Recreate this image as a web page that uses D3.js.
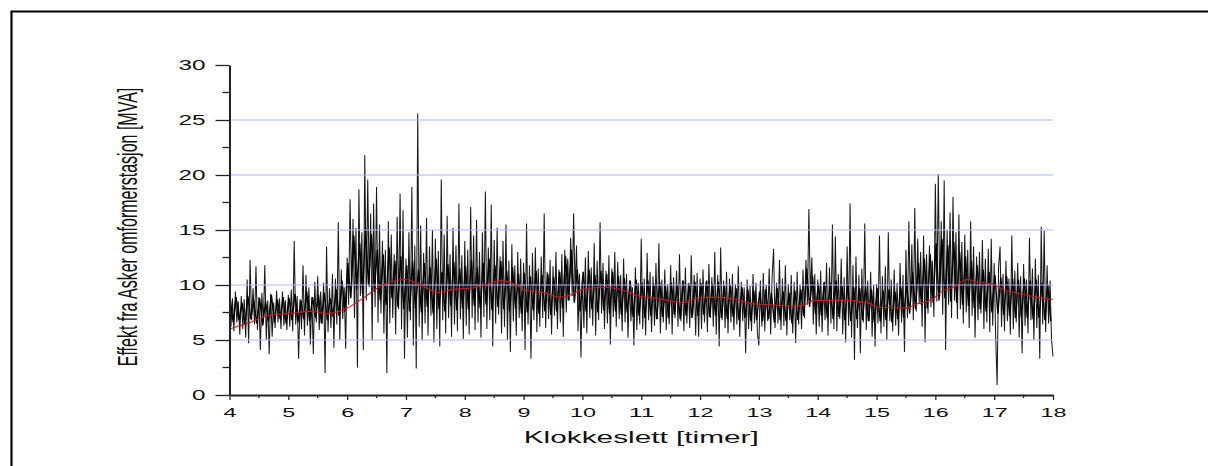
<!DOCTYPE html>
<html><head><meta charset="utf-8">
<script src="https://cdn.jsdelivr.net/npm/d3@7"></script>
<style>
html,body{margin:0;padding:0;background:#fff;}
svg{display:block;}
</style></head>
<body>
<svg id="chart" width="1208" height="466"></svg>
<script>
// ---- data ----
const startHour = 4, stepHour = 0.025;
// MVA samples (whole trace incl. spikes), 40 per hour
const mva04 = [9.6,6.2,8.8,5.8,9.4,6.6,8.5,5.5,9.0,6.0,8.7,5.2,10.5,4.7,12.3,6.8,9.7,6.4,11.7,5.9,8.9,4.1,9.3,6.5,11.8,5.0,8.6,3.7,9.2,5.3,8.4,6.1,9.5,6.6,8.8,6.0,9.4,6.3,8.6,5.9];
const mva05 = [9.1,6.2,9.6,5.8,14.0,6.4,9.0,3.3,8.7,6.0,11.8,5.4,10.9,6.3,9.8,4.6,8.9,3.7,10.3,6.6,10.8,5.9,9.4,6.5,10.2,2.0,13.5,5.7,9.7,6.1,11.0,4.3,10.6,6.4,15.7,5.0,11.4,6.9,9.8,4.2];
const mva06 = [12.5,8.2,17.8,9.5,16.0,7.0,15.2,2.5,18.7,9.0,14.8,4.1,21.8,8.6,19.6,9.8,16.5,5.0,17.4,8.0,18.9,6.6,15.5,7.4,14.0,5.6,13.2,2.0,15.8,6.5,14.6,7.0,12.8,5.5,16.2,7.8,18.3,6.0,16.8,3.3];
const mva07 = [12.4,5.2,14.8,6.8,18.9,4.5,13.6,2.4,25.6,6.2,15.4,5.0,12.9,6.5,16.1,5.4,13.5,7.2,15.0,4.8,14.2,6.0,13.1,4.4,19.6,6.8,14.6,5.6,16.3,7.0,12.8,5.3,15.2,6.4,13.6,5.8,17.4,6.9,12.7,5.1];
const mva08 = [14.0,6.3,13.2,5.5,17.1,7.0,14.5,5.9,15.9,6.6,13.0,5.2,14.8,7.1,18.5,6.0,13.4,6.8,17.3,4.4,14.1,6.5,15.2,7.3,12.6,5.6,14.0,6.2,15.5,5.0,12.2,3.9,13.7,6.7,11.8,5.4,13.0,7.0,12.4,5.8];
const mva09 = [12.0,4.1,15.6,6.4,11.8,3.3,12.9,6.8,13.4,5.7,11.5,6.2,12.6,7.0,16.5,6.1,11.2,6.9,12.3,5.5,11.7,7.2,13.0,6.0,11.4,6.6,12.8,5.3,13.2,7.5,12.4,8.6,14.3,9.0,16.5,9.6,13.6,5.8,11.0,3.4];
const mva10 = [10.8,6.1,12.5,5.6,13.1,7.0,11.6,6.3,13.8,5.4,12.2,6.8,15.7,7.4,12.0,6.0,11.3,6.5,12.7,4.6,11.5,7.1,13.0,6.2,12.1,6.9,10.9,5.8,12.4,6.6,11.0,5.2,10.4,6.7,9.8,4.5,11.6,5.9,10.2,6.4];
const mva11 = [14.2,6.0,10.6,5.4,12.9,6.8,11.2,5.7,10.8,6.3,12.0,6.9,13.8,5.6,10.5,6.6,11.4,5.9,10.1,6.4,11.8,5.5,10.7,7.0,11.3,6.2,12.8,6.7,10.4,5.8,11.6,6.5,10.2,6.1,12.7,7.2,10.9,5.4,11.1,5.3];
const mva12 = [10.6,6.0,11.4,6.6,10.3,5.7,11.9,7.0,10.7,6.2,13.0,5.5,10.9,4.4,13.4,6.8,10.4,6.1,11.2,5.6,10.6,6.6,11.0,5.9,10.1,6.4,11.7,5.3,10.3,6.7,9.8,3.8,10.5,6.0,9.9,5.8,11.0,6.5,10.2,5.6];
const mva13 = [4.5,10.4,6.2,11.1,5.8,10.0,6.7,11.5,5.5,10.8,13.3,6.1,10.2,6.5,12.3,5.9,10.6,6.3,11.8,5.4,10.1,6.8,10.9,5.6,10.3,4.7,11.2,6.4,10.0,6.0,11.4,7.0,12.3,8.2,16.9,9.0,12.5,6.4,11.0,5.5];
const mva14 = [10.5,6.2,11.3,5.7,10.2,6.8,12.0,5.4,11.6,6.5,15.5,6.0,14.4,5.8,11.0,6.9,12.4,5.5,10.7,4.8,13.5,6.3,17.4,5.2,11.8,3.2,12.6,6.1,10.9,3.8,11.5,6.6,15.6,5.9,10.4,6.7,11.2,5.3,10.0,4.4];
const mva15 = [10.1,6.5,14.5,5.6,10.8,6.2,11.7,5.0,14.8,6.7,10.5,5.8,11.4,6.3,10.2,5.4,12.0,6.6,10.9,3.9,13.2,7.0,15.8,8.1,13.7,6.8,17.0,7.6,14.2,8.3,13.0,6.2,14.5,4.8,12.8,7.4,13.6,8.0,12.2,7.1];
const mva16 = [19.2,8.5,20.1,9.0,15.8,7.3,19.5,4.1,15.0,8.2,16.6,7.0,18.0,8.6,14.8,6.9,16.4,7.8,13.9,6.5,14.6,7.5,13.2,6.1,15.8,7.2,13.5,5.2,12.6,6.8,13.0,7.4,14.1,6.0,12.4,6.6,13.3,5.7,14.2,6.3];
const mva17 = [12.0,5.4,0.9,11.6,13.5,6.2,11.0,5.8,12.2,6.7,10.6,5.5,14.5,6.0,11.3,6.6,12.0,5.2,10.8,3.8,11.9,6.3,10.5,5.6,14.3,6.8,11.5,5.0,12.4,6.1,10.9,3.3,15.3,6.4,14.9,5.7,11.8,6.5,10.4,5.0];
const mva18 = [3.5];

// in-between samples of the dense core, 20 per hour (offset by half a step)
const denseStart = 4.0125, denseStep = 0.05;
const core04 = [8.7,6.6,8.9,6.8,8.4,6.4,9.0,6.9,8.6,6.5,8.8,6.3,8.5,6.7,9.1,6.6,8.7,6.9,8.9,6.5];
const core05 = [8.8,6.8,9.2,6.6,8.6,6.9,9.4,6.7,8.9,7.0,9.1,6.5,9.3,6.8,8.8,7.1,9.6,7.2,10.4,7.6];
const core06 = [12.0,8.8,14.5,9.6,13.8,9.2,15.2,10.0,14.6,9.4,13.2,8.6,12.8,8.2,13.4,8.8,12.2,8.0,12.6,7.8];
const core07 = [11.8,7.6,12.2,7.9,11.4,7.5,12.0,8.0,11.6,7.4,12.4,7.8,11.2,7.6,11.9,8.1,12.1,7.7,11.5,7.9];
const core08 = [11.7,7.8,12.3,8.1,11.6,7.9,12.0,8.2,12.4,7.7,11.8,8.0,12.2,7.8,11.3,7.6,11.6,7.9,11.0,7.4];
const core09 = [11.1,7.5,10.8,7.7,11.3,7.4,10.9,7.6,11.0,7.3,10.7,7.6,11.2,7.9,12.6,8.6,13.2,8.4,11.4,7.6];
const core10 = [11.2,7.6,11.4,7.8,10.9,7.5,11.3,7.7,11.0,7.4,11.2,7.6,10.8,7.3,10.6,7.5,10.4,7.1,10.5,7.2];
const core11 = [10.2,7.0,10.4,7.2,10.1,6.9,10.3,7.1,9.9,7.0,10.2,7.3,10.0,6.9,10.4,7.2,10.1,7.0,10.3,7.2];
const core12 = [10.2,7.3,10.4,7.1,10.1,7.2,10.3,7.0,9.9,6.9,10.0,7.1,9.7,6.8,9.8,7.0,9.6,6.7,9.5,6.8];
const core13 = [9.4,6.7,9.6,6.9,9.3,6.6,9.7,6.8,9.4,6.7,9.3,6.5,9.5,6.8,9.6,7.2,11.5,8.0,10.8,7.4];
const core14 = [10.1,7.2,10.3,7.0,10.2,6.9,10.4,7.1,9.9,6.8,10.1,6.7,9.8,6.9,9.7,6.8,9.9,6.7,9.6,6.6];
const core15 = [9.7,6.7,9.5,6.8,9.6,6.6,9.4,6.9,9.8,7.0,10.2,7.4,11.2,7.8,12.0,8.2,12.4,7.9,12.8,8.4];
const core16 = [13.8,8.6,14.2,8.8,13.6,8.5,13.9,8.4,13.0,8.2,12.6,8.1,12.2,7.9,11.8,7.8,11.4,7.6,11.2,7.5];
const core17 = [10.9,7.4,10.7,7.3,10.8,7.2,10.6,7.0,10.5,7.1,10.6,7.0,10.4,6.9,10.5,7.0,10.2,6.8,10.0,6.7];

// smoothed (red) curve
const trendHours = [4.0,4.3,4.65,5.0,5.4,5.65,5.85,6.0,6.3,6.6,7.0,7.25,7.55,7.8,8.1,8.35,8.6,8.75,9.05,9.35,9.6,9.8,10.0,10.4,10.7,10.95,11.25,11.45,11.7,11.95,12.25,12.6,12.9,13.2,13.7,13.95,14.4,14.85,15.0,15.5,15.7,15.95,16.1,16.3,16.55,16.7,17.0,17.15,17.45,17.7,18.0];
const trendMVA   = [6.0,6.5,7.2,7.4,7.6,7.4,7.6,7.9,8.9,10.0,10.5,10.0,9.3,9.6,9.7,10.0,10.4,10.3,9.5,9.3,8.9,9.1,9.6,9.8,9.5,9.0,8.8,8.6,8.4,8.8,8.9,8.7,8.3,8.2,8.1,8.6,8.6,8.4,8.0,7.9,8.3,8.7,9.4,9.8,10.5,10.3,10.0,9.6,9.2,8.9,8.7];

const xTicks = [4,5,6,7,8,9,10,11,12,13,14,15,16,17,18];
const xMinorTicks = [4.5,5.5,6.5,7.5,8.5,9.5,10.5,11.5,12.5,13.5,14.5,15.5,16.5,17.5];
const yTicks = [0,5,10,15,20,25,30];
const yMinorTicks = [2.5,7.5,12.5,17.5,22.5,27.5];
const gridValues = [5,10,15,20,25];
const xTitle = "Klokkeslett [timer]";
const yTitle = "Effekt fra Asker omformerstasjon [MVA]";

// ---- drawing ----
const svg = d3.select("#chart");
const series = [].concat(mva04,mva05,mva06,mva07,mva08,mva09,mva10,mva11,mva12,mva13,mva14,mva15,mva16,mva17,mva18)
  .map((v,i)=>({t:startHour + i*stepHour, v}));
const dense = [].concat(core04,core05,core06,core07,core08,core09,core10,core11,core12,core13,core14,core15,core16,core17)
  .map((v,i)=>({t:denseStart + i*denseStep, v}));
const trend = trendHours.map((t,i)=>({t, v:trendMVA[i]}));

const x = d3.scaleLinear().domain([4,18]).range([229.5,1053]);
const y = d3.scaleLinear().domain([0,30]).range([395,65]);

// outer frame
svg.append("path").attr("d","M11.5,466V11.5H1208").attr("fill","none").attr("stroke","#000").attr("stroke-width",2.2);

const font = "'Liberation Sans', Arial, sans-serif";
const line = d3.line().x(d=>x(d.t)).y(d=>y(d.v));

// trace: dense core + full samples
svg.append("path").datum(dense).attr("d",line).attr("fill","none")
  .attr("stroke","#000").attr("stroke-width",1.4);
svg.append("path").datum(series).attr("d",line).attr("fill","none")
  .attr("stroke","#000").attr("stroke-width",1.05).attr("stroke-opacity",0.9);

// grid lines (drawn over the data, light blue)
svg.append("g").selectAll("line").data(gridValues).join("line")
  .attr("x1",x(4)).attr("x2",x(18)).attr("y1",d=>y(d)).attr("y2",d=>y(d))
  .attr("stroke","#b4b4ff").attr("stroke-width",1.2);

// trend
svg.append("path").datum(trend).attr("d",d3.line().x(d=>x(d.t)).y(d=>y(d.v)).curve(d3.curveMonotoneX)).attr("fill","none")
  .attr("stroke","#cc1a1a").attr("stroke-width",1.1);

// y axis
const gy = svg.append("g").attr("transform",`translate(${x(4)},0)`)
  .call(d3.axisLeft(y).tickValues(yTicks).tickSize(14).tickPadding(10).tickSizeOuter(0).tickFormat(d3.format("d")));
gy.append("g").selectAll("line").data(yMinorTicks).join("line")
  .attr("x1",0).attr("x2",-7).attr("y1",d=>y(d)).attr("y2",d=>y(d)).attr("stroke","#222").attr("stroke-width",1.3);
gy.select(".domain").attr("stroke","#222").attr("stroke-width",2);
gy.selectAll(".tick line").attr("stroke","#222").attr("stroke-width",1.3);
gy.selectAll(".tick text").attr("font-family",font).attr("font-size",14).attr("fill","#111")
  .attr("textLength",d=>String(d).length*13.5).attr("lengthAdjust","spacingAndGlyphs");

// x axis
const gx = svg.append("g").attr("transform",`translate(0,${y(0)})`)
  .call(d3.axisBottom(x).tickValues(xTicks).tickSize(5).tickPadding(8).tickSizeOuter(0).tickFormat(d3.format("d")));
gx.append("g").selectAll("line").data(xMinorTicks).join("line")
  .attr("x1",d=>x(d)).attr("x2",d=>x(d)).attr("y1",0).attr("y2",3).attr("stroke","#222").attr("stroke-width",1.3);
gx.select(".domain").attr("stroke","#222").attr("stroke-width",2);
gx.selectAll(".tick line").attr("stroke","#222").attr("stroke-width",1.3);
gx.selectAll(".tick text").attr("font-family",font).attr("font-size",13).attr("fill","#111")
  .attr("textLength",d=>String(d).length*13).attr("lengthAdjust","spacingAndGlyphs");

// titles
svg.append("text").attr("x",(x(4)+x(18))/2).attr("y",443).attr("text-anchor","middle")
  .attr("font-family",font).attr("font-size",16).attr("fill","#111")
  .attr("textLength",235).attr("lengthAdjust","spacingAndGlyphs").text(xTitle);
svg.append("text").attr("transform","translate(137,227) rotate(-90) scale(1,1.75)").attr("text-anchor","middle")
  .attr("font-family",font).attr("font-size",16).attr("fill","#111")
  .text(yTitle);
</script>
</body></html>
